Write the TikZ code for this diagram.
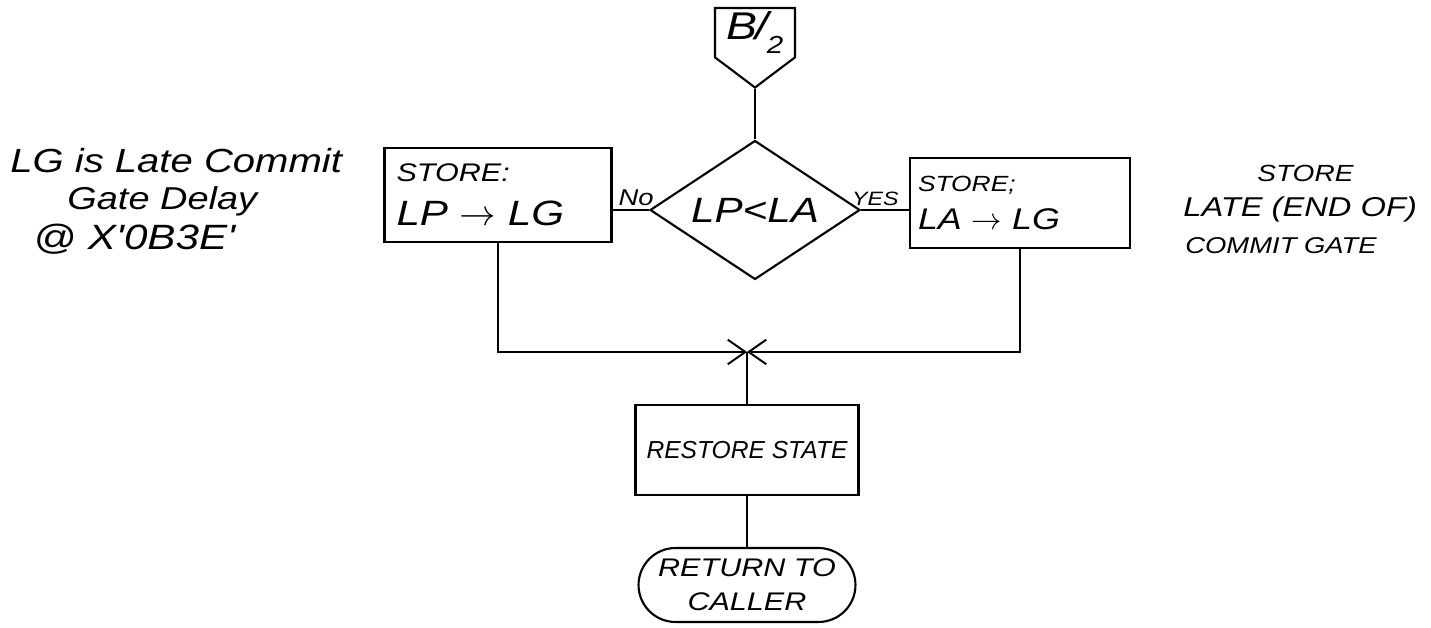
\documentclass[tikz,border=0pt]{standalone}
\usepackage{fontspec}
\setmainfont{Liberation Sans}
\newfontfamily\hand[FakeStretch=1.2]{Liberation Sans}
\usetikzlibrary{shapes.geometric,shapes.misc,shapes.symbols,arrows.meta,positioning}

\newcommand{\hfs}[1]{\hand\itshape\fontsize{#1}{1.2\dimexpr#1pt\relax}\selectfont}

\tikzset{
  procbox/.style={draw, line width=1.2pt, align=left},
  decbox/.style={draw, diamond, aspect=1.5, line width=1.2pt, inner sep=0pt, minimum width=4.2cm, minimum height=2.78cm, font=\hfs{20}},
  termbox/.style={draw, rounded rectangle, line width=1.2pt, align=center, inner sep=2pt, minimum width=4.48cm, minimum height=1.48cm, font=\hfs{14.5}},
  offpage/.style={draw, signal, signal to=south, signal pointer angle=106, line width=1.2pt, minimum width=1.6cm, minimum height=1.46cm, inner sep=2pt},
  note/.style={inner sep=0pt, anchor=base west},
  lbl/.style={inner sep=2pt},
  flow/.style={line width=1.2pt},
  merge/.style={flow, -{Straight Barb[length=10pt, width=14pt, line width=1.1pt]}}
}

\begin{document}
\begin{tikzpicture}[x=0.02cm, y=-0.02cm]
  \useasboundingbox (0,0) rectangle (1431,628);

  % Entry connector and decision
  \node[offpage, anchor=north] (conn) at (755,7) {{\hfs{22}B\kern-1pt/\kern-1pt\raisebox{-0.7ex}{\hfs{14}2}}};
  \node[decbox] (dec) at (755,210) {LP<LA};

  % Store boxes
  \node[procbox, minimum width=4.54cm, minimum height=1.88cm, inner xsep=0.24cm, text width=4.06cm, font=\hfs{20}] (storeP) at (498,195)
    {{\hfs{14.5}STORE:}\\[1pt] LP $\rightarrow$ LG};
  \node[procbox, minimum width=4.4cm, minimum height=1.8cm, inner xsep=0.16cm, text width=4.08cm, font=\hfs{17}] (storeA) at (1020,203)
    {{\hfs{12.5}STORE;}\\[1pt] LA $\rightarrow$ LG\\[-4pt]};

  % Restore and return
  \node[procbox, align=center, minimum width=4.46cm, minimum height=1.8cm, inner sep=1pt, font=\itshape\fontsize{14}{17}\selectfont] (restore) at (747,450) {RESTORE STATE};
  \node[termbox] (ret) at (747,585) {RETURN TO\\[2pt]CALLER};
  \coordinate[above=1.04cm of restore.north] (junc);

  % Side notes
  \node[note, font=\hfs{19}] (noteA) at (10,173) {LG is Late Commit};
  \node[note, font=\hfs{18}] (noteB) at (67,210) {Gate Delay};
  \node[note, font=\hfs{20}] (noteC) at (33,250) {@ X'0B3E'};
  \node[note, font=\hfs{13.3}] (noteD) at (1257,182) {STORE};
  \node[note, font=\hfs{15.5}] (noteE) at (1183,217) {LATE (END OF)};
  \node[note, font=\hfs{13}] (noteF) at (1185,254) {COMMIT GATE};

  % Connections
  \draw[flow] (conn.south) -- (dec.north);
  \draw[flow] (dec.west) -- node[lbl, above, pos=0.35, font=\hfs{13}] {No} (dec.west -| storeP.east);
  \draw[flow] (dec.east) -- node[lbl, above, pos=0.3, font=\hfs{11}] {YES} (dec.east -| storeA.west);
  \draw[merge] (storeP.south) |- (junc);
  \draw[merge] (storeA.south) |- (junc);
  \draw[flow] (junc) -- (restore.north);
  \draw[flow] (restore.south) -- (ret.north);
\end{tikzpicture}
\end{document}
